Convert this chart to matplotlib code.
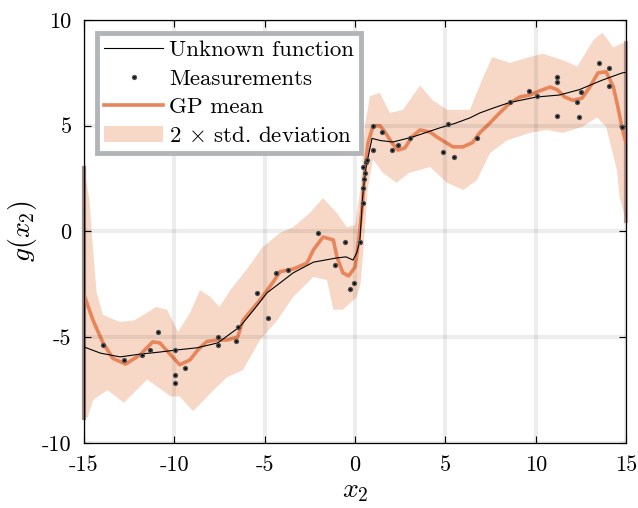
import numpy as np
import matplotlib
matplotlib.use("Agg")
import matplotlib.pyplot as plt

plt.rcParams['font.family'] = ['cmr10', 'DejaVu Serif']
plt.rcParams['mathtext.fontset'] = 'cm'
plt.rcParams['axes.unicode_minus'] = False
plt.rcParams['axes.formatter.use_mathtext'] = True

# unknown function (black line)
true_x = [-15, -14.1, -13.0, -11.9, -10.8, -9.85, -8.75, -7.6, -6.37, -5.6, -4.87, -4.1,
          -3.43, -2.3, -1.0, -0.5, -0.11, 0.1, 0.27, 0.44, 0.6, 0.72, 0.94, 1.4, 2.1, 3.2,
          4.7, 5.5, 6.36, 6.9, 7.7, 8.57, 10.07, 11.3, 12.4, 13.7, 14.8, 15]
true_y = [-5.46, -5.75, -5.93, -5.8, -5.7, -5.6, -5.5, -5.27, -4.5, -3.7, -2.9, -2.4,
          -1.96, -1.45, -1.25, -1.2, -1.35, -1.0, -0.4, 1.8, 3.0, 3.5, 4.4, 4.3, 4.23, 4.47,
          4.9, 5.1, 5.37, 5.6, 5.85, 6.1, 6.36, 6.45, 6.7, 7.16, 7.5, 7.52]

# GP mean
mean_x = [-15, -14.5, -13.95, -13.4, -12.7, -11.9, -11.2, -10.8, -10.2, -9.7, -9.13, -8.7,
          -8.2, -7.6, -7.08, -6.5, -6.2, -5.26, -4.54, -4.15, -3.4, -2.66, -2.3, -1.77,
          -1.2, -1.0, -0.67, -0.35, 0.0, 0.16, 0.38, 0.55, 0.72, 1.0, 1.38, 1.66, 2.05,
          2.38, 2.76, 3.15, 3.6, 4.15, 4.53, 4.98, 5.42, 5.97, 6.5, 6.9, 7.47, 8.0, 8.57,
          9.13, 9.68, 10.2, 10.8, 11.2, 11.6, 12.06, 12.56, 13.0, 13.45, 13.9, 14.3, 14.55,
          14.78, 15.0]
mean_y = [-3.0, -4.2, -5.27, -6.0, -6.27, -5.84, -5.22, -5.27, -5.84, -6.3, -6.07, -5.6,
          -5.2, -5.13, -5.13, -5.0, -4.2, -3.24, -2.4, -1.9, -1.77, -1.5, -0.87, -0.26,
          -0.4, -1.2, -1.96, -2.1, -1.68, -0.73, 1.0, 2.9, 4.18, 5.0, 5.0, 4.7, 4.18,
          3.85, 3.95, 4.47, 4.8, 4.7, 4.47, 4.23, 4.0, 4.0, 4.2, 4.66, 5.13, 5.6, 6.07,
          6.36, 6.45, 6.64, 6.83, 6.7, 6.36, 6.2, 6.3, 6.83, 7.5, 7.55, 6.83, 5.9,
          4.9, 4.2]

# 2 x std band, upper and lower edges
up_x = [-15, -14.7, -14.5, -14.3, -13.95, -13.0, -12.2, -11.0, -10.4, -9.8, -9.13, -8.58,
        -8.0, -7.5, -6.9, -6.0, -5.1, -4.15, -3.43, -2.5, -1.77, -1.0, -0.45, 0.0, 0.3,
        0.55, 0.83, 1.38, 1.93, 2.65, 3.6, 4.3, 5.1, 6.36, 7.1, 7.6, 8.57, 9.68, 10.4,
        11.5, 12.3, 13.2, 13.7, 14.3, 14.8, 15]
up_y = [3.0, 1.5, -0.87, -2.9, -3.95, -4.28, -4.2, -3.57, -3.7, -4.75, -3.85, -2.77,
        -3.1, -3.57, -2.77, -1.8, -0.73, -0.07, 0.2, 0.87, 1.58, 0.87, 0.2, 0.3, 2.0,
        5.0, 6.4, 6.55, 5.6, 5.75, 6.9, 6.2, 5.75, 5.75, 7.3, 8.25, 7.97, 8.25, 8.4,
        8.1, 7.8, 9.05, 9.4, 8.7, 8.9, 8.9]
lo_x = [-15, -14.8, -14.5, -13.7, -12.8, -11.5, -10.2, -9.7, -8.96, -8.0, -7.1, -6.2,
        -5.26, -4.3, -3.43, -2.3, -1.55, -1.2, -0.67, 0.1, 0.3, 0.5, 0.7, 1.0, 1.55, 2.3,
        3.0, 4.15, 5.1, 6.0, 6.75, 7.47, 8.4, 9.68, 10.6, 11.5, 12.6, 13.4, 13.9, 14.5,
        14.65, 15]
lo_y = [-8.8, -8.8, -7.97, -7.5, -8.1, -7.0, -7.8, -7.8, -8.5, -7.65, -6.9, -6.55,
        -5.13, -4.2, -3.1, -2.15, -2.3, -3.7, -3.7, -3.1, -2.5, -0.5, 2.0, 3.4, 2.77, 2.3,
        2.77, 3.05, 2.3, 1.96, 2.43, 3.7, 4.3, 4.66, 4.8, 4.66, 4.95, 5.4, 4.95, 2.9,
        1.6, 0.5]

# measurements
meas_x = [-13.95, -12.8, -11.8, -11.35, -10.9, -9.96, -9.96, -9.96, -9.4, -7.6, -7.6,
          -6.6, -6.5, -5.4, -4.8, -4.4, -3.7, -2.05, -1.1, -0.56, -0.28, -0.06, 0.27,
          0.44, 0.44, 0.44, 0.5, 0.55, 0.6, 0.66, 1.0, 1.0, 1.5, 2.05, 2.4, 3.05, 4.87,
          5.15, 5.48, 6.75, 8.57, 9.63, 10.1, 11.2, 11.2, 11.2, 12.3, 12.4, 12.5, 13.5,
          14.05, 14.05, 14.8]
meas_y = [-5.37, -6.07, -5.84, -5.6, -4.75, -5.6, -6.8, -7.15, -6.45, -4.98, -5.37,
          -5.18, -4.5, -2.9, -4.1, -1.96, -1.82, -0.07, -1.58, -0.5, -2.7, -2.45, -0.5,
          1.35, 2.05, 3.05, 2.5, 2.77, 3.3, 3.4, 5.0, 3.85, 4.7, 3.85, 4.1, 4.4, 3.75,
          5.1, 3.5, 4.4, 6.1, 6.64, 6.4, 7.07, 7.3, 5.46, 6.1, 5.4, 6.6, 7.97, 7.73,
          6.88, 4.95]

xticks = [-15, -10, -5, 0, 5, 10, 15]
xtick_labels = ['-15', '-10', '-5', '0', '5', '10', '15']
yticks = [-10, -5, 0, 5, 10]
ytick_labels = ['-10', '-5', '0', '5', '10']

band_color = '#f7d8c7'
mean_color = '#e8855a'

fig = plt.figure(figsize=(6.38, 5.08), dpi=100)
ax = fig.add_axes([0.1317, 0.128, 0.8495, 0.8327])

poly_x = list(up_x) + list(lo_x[::-1])
poly_y = list(up_y) + list(lo_y[::-1])
ax.fill(poly_x, poly_y, color=band_color, lw=0, label=r'2 $\times$ std. deviation', zorder=1)
# darker edges where the band meets the plot borders
ax.plot([up_x[0], lo_x[0]], [up_y[0], lo_y[0]], color='#8c7068', lw=3, alpha=0.8,
        zorder=1.5, clip_on=False)
ax.plot([up_x[-1], lo_x[-1]], [up_y[-1], lo_y[-1]], color='#a08078', lw=3, alpha=0.7,
        zorder=1.5, clip_on=False)

ax.plot(mean_x, mean_y, color=mean_color, lw=2.6, label='GP mean', zorder=2)
ax.plot(true_x, true_y, color='black', lw=0.8, label='Unknown function', zorder=3)
ax.plot(meas_x, meas_y, ls='none', marker='o', ms=2.8, color='black',
        markeredgecolor='#555555', label='Measurements', zorder=4)

ax.set_xlim(-15, 15)
ax.set_ylim(-10, 10)
ax.set_xticks(xticks)
ax.set_xticklabels(xtick_labels)
ax.set_yticks(yticks)
ax.set_yticklabels(ytick_labels)
ax.tick_params(direction='in', top=True, right=True, length=5, width=0.8,
               labelsize=16, pad=9)
ax.grid(True, color='black', alpha=0.07, lw=3)
ax.set_axisbelow(False)
for s in ax.spines.values():
    s.set_linewidth(0.9)

ax.set_xlabel(r'$x_2$', fontsize=20, labelpad=2)
ax.set_ylabel(r'$g(x_2)$', fontsize=20, labelpad=2)

handles, labels = ax.get_legend_handles_labels()
order = [2, 3, 1, 0]
leg = ax.legend([handles[i] for i in order], [labels[i] for i in order],
                loc='upper left', bbox_to_anchor=(0.024, 0.969), borderaxespad=0,
                fontsize=16.5, handlelength=2.6, handletextpad=0.25, labelspacing=0.38,
                borderpad=0.3, fancybox=False, framealpha=1, edgecolor='#b3b6b8',
                markerscale=1.0)
leg.get_frame().set_linewidth(3.5)
leg.set_zorder(10)

fig.savefig('out.png', dpi=100)
